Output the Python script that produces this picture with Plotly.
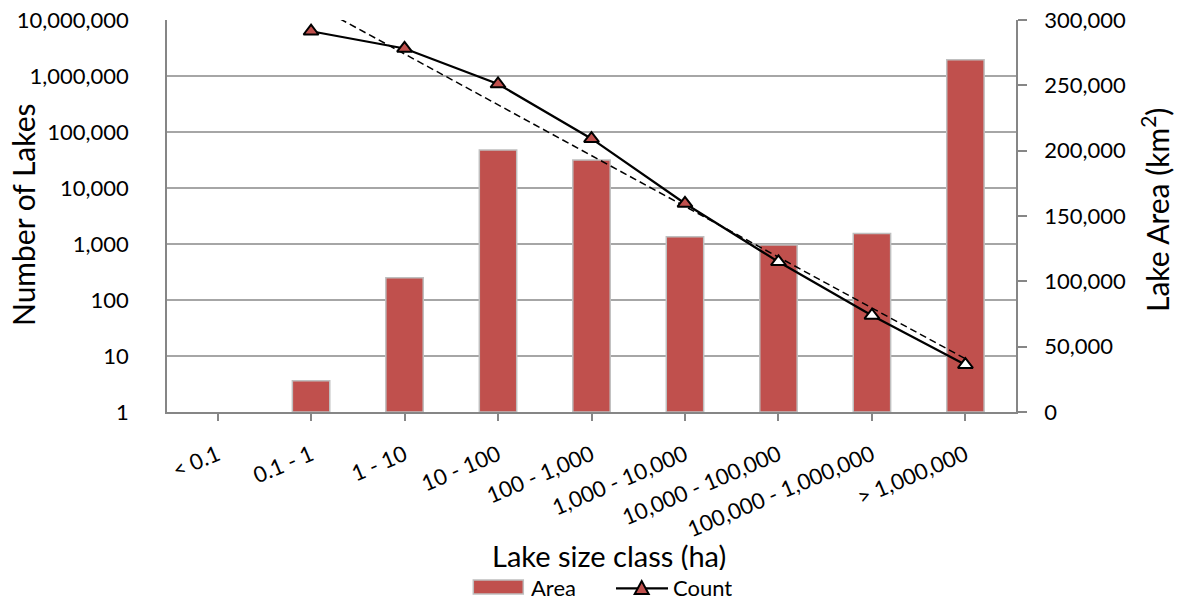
import numpy as np
import plotly.graph_objects as go

# Lake size classes (hectares)
size_classes = ["< 0.1", "0.1 - 1", "1 - 10", "10 - 100", "100 - 1,000",
                "1,000 - 10,000", "10,000 - 100,000", "100,000 - 1,000,000",
                "> 1,000,000"]

# Total lake area per class (km²) and number of lakes per class
lake_area_km2 = [None, 24000, 102700, 200600, 192900, 134100, 127800, 136600, 269600]
lake_count = [None, 6300000, 3100000, 720000, 76000, 5300, 480, 53, 7]

count_ticks = [1, 10, 100, 1000, 10000, 100000, 1000000, 10000000]
area_ticks = [0, 50000, 100000, 150000, 200000, 250000, 300000]

# Marker fill per class (later classes drawn hollow)
RED = "#C0504D"
marker_fills = [RED, RED, RED, RED, RED, RED, "white", "white", "white"]

# Exponential trend of the counts (least squares in log space)
idx = np.array([i for i, v in enumerate(lake_count) if v is not None])
logc = np.log10([lake_count[i] for i in idx])
coef = np.polyfit(idx, logc, 1)
trend_vals = 10 ** np.polyval(coef, idx)
trend_x = [size_classes[i] for i in idx]

FONT = "Lato"
AXIS_GRAY = "#868686"
GRID_GRAY = "#A6A6A6"

W, H = 1181, 601
ML, MR, MT, MB = 167, 165, 20, 189
PW, PH = W - ML - MR, H - MT - MB


def px_x(x):
    return (x - ML) / PW


def px_y(y):
    return (H - MB - y) / PH


fig = go.Figure()

fig.add_trace(go.Bar(
    x=size_classes, y=lake_area_km2, name="Area", yaxis="y",
    marker=dict(color=RED, line=dict(color="#BFBFBF", width=1.5)),
))

fig.add_trace(go.Scatter(
    x=trend_x, y=trend_vals, yaxis="y2", mode="lines", name="Trend",
    line=dict(color="black", width=1.5, dash="7px,4px"),
    hoverinfo="skip",
))

fig.add_trace(go.Scatter(
    x=size_classes, y=lake_count, yaxis="y2", mode="lines+markers", name="Count",
    line=dict(color="black", width=2.25),
    marker=dict(symbol="triangle-up", size=13, color=marker_fills,
                line=dict(color="black", width=2)),
))

tick_font = dict(family=FONT, size=22, color="black")

fig.update_layout(
    width=W, height=H,
    margin=dict(l=ML, r=MR, t=MT, b=MB, autoexpand=False),
    paper_bgcolor="white", plot_bgcolor="white",
    showlegend=False,
    bargap=0.6,
    xaxis=dict(
        type="category", categoryorder="array", categoryarray=size_classes,
        tickangle=-23, tickfont=tick_font, automargin=False,
        ticks="outside", ticklen=7, tickwidth=1.5, tickcolor=AXIS_GRAY,
        showline=True, linecolor=AXIS_GRAY, linewidth=1.5,
        showgrid=False, ticklabelstandoff=13,
    ),
    yaxis=dict(
        side="right", range=[0, 300000], tickvals=area_ticks,
        ticktext=[f"{v:,}" for v in area_ticks], tickfont=tick_font,
        ticks="outside", ticklen=9, tickwidth=1.5, tickcolor=AXIS_GRAY,
        showline=True, linecolor=AXIS_GRAY, linewidth=1.5, automargin=False,
        showgrid=False, zeroline=False, ticklabelstandoff=13,
    ),
    yaxis2=dict(
        overlaying="y", side="left", type="log", range=[0, 7],
        tickvals=count_ticks, ticktext=[f"{v:,}" for v in count_ticks],
        tickfont=tick_font, ticks="", automargin=False,
        showline=True, linecolor=AXIS_GRAY, linewidth=1.5,
        showgrid=True, gridcolor=GRID_GRAY, gridwidth=1.5,
        zeroline=False, ticklabelstandoff=32,
    ),
)

title_font = dict(family=FONT, size=30, color="black")
xtitle_font = dict(family=FONT, size=29, color="black")
legend_font = dict(family=FONT, size=22, color="black")

annotations = [
    dict(text="Number of Lakes", x=px_x(23), y=px_y(215), textangle=-90,
         font=title_font),
    dict(text="Lake Area (km<sup>2</sup>)", x=px_x(1155), y=px_y(210),
         textangle=-90, font=title_font),
    dict(text="Lake size class (ha)", x=px_x(609), y=px_y(555),
         font=xtitle_font, height=30),
    dict(text="Area", x=px_x(529), y=px_y(587), xanchor="left",
         font=legend_font, height=22),
    dict(text="Count", x=px_x(671), y=px_y(587), xanchor="left",
         font=legend_font, height=22),
]
for a in annotations:
    a.update(xref="paper", yref="paper", showarrow=False)
    a.setdefault("xanchor", "center")
    a.setdefault("yanchor", "middle")

# Legend swatches
tx, ty = 641.7, 588
tri = [(tx - 7, ty + 6), (tx + 7, ty + 6), (tx, ty - 7)]
tri_path = "M " + " L ".join(f"{px_x(a)},{px_y(b)}" for a, b in tri) + " Z"
shapes = [
    dict(type="rect", x0=px_x(473.3), x1=px_x(523.3), y0=px_y(594), y1=px_y(580),
         fillcolor=RED, line=dict(color="#BFBFBF", width=1.5)),
    dict(type="line", x0=px_x(616), x1=px_x(668), y0=px_y(588.3), y1=px_y(588.3),
         line=dict(color="black", width=2.25)),
    dict(type="path", path=tri_path, fillcolor=RED,
         line=dict(color="black", width=2)),
]
for s in shapes:
    s.update(xref="paper", yref="paper")

fig.update_layout(annotations=annotations, shapes=shapes)

fig.write_html("out.html")
